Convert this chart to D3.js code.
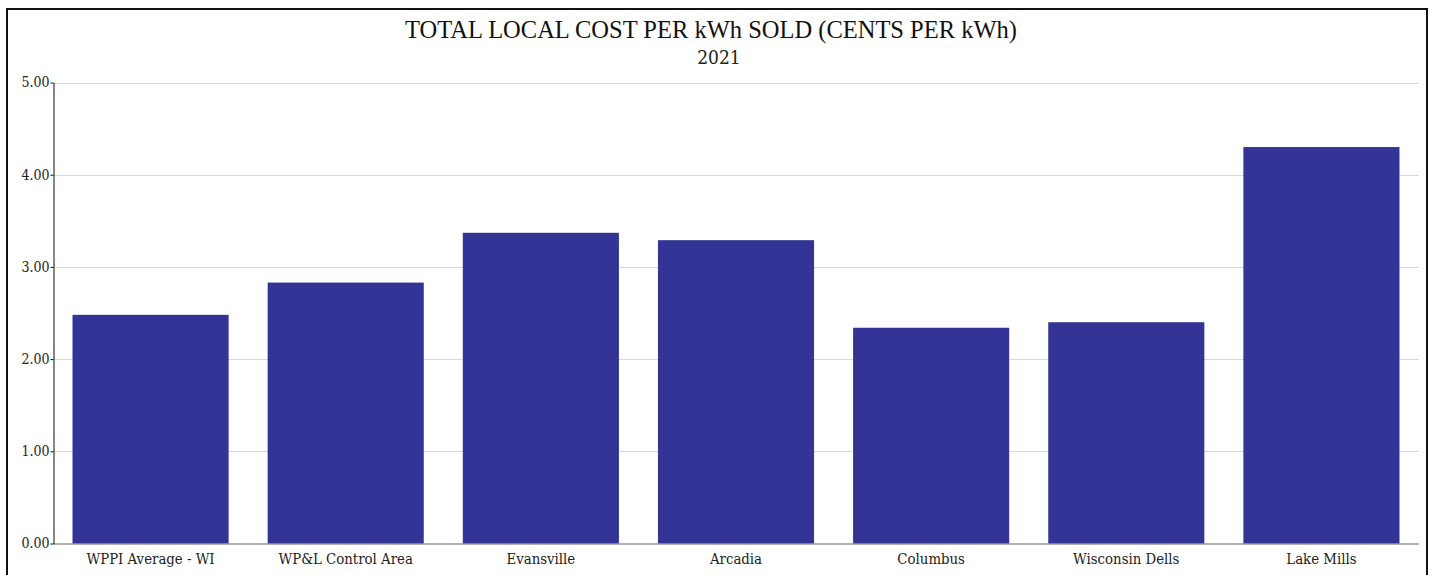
<!DOCTYPE html>
<meta charset="utf-8">
<style>
  body {
    margin: 0;
    background-color: white;
  }
  .frame {
    position: absolute;
    left: 6px;
    top: 8px;
    width: 1422px;
    height: 600px;
    border: 2px solid #111;
    box-sizing: border-box;
  }
</style>
<script src="https://d3js.org/d3.v7.min.js"></script>
<body>
<div class="frame"></div>
<div id="chart" style="position:absolute;left:0;top:0;"></div>
<script>
  // chart data
  const categories = ["WPPI Average - WI", "WP&L Control Area", "Evansville", "Arcadia", "Columbus", "Wisconsin Dells", "Lake Mills"];
  const values = [2.48, 2.83, 3.37, 3.29, 2.34, 2.40, 4.30];
  const yTicks = [0, 1, 2, 3, 4, 5];
  const title = "TOTAL LOCAL COST PER kWh SOLD (CENTS PER kWh)";
  const subtitle = "2021";

  var width = 1435, height = 575;
  var margin = {top: 82, right: 16, bottom: 32, left: 53};
  var labelFont = "'DejaVu Serif Condensed', 'DejaVu Serif', serif";

  var svg = d3.select("#chart")
    .append("svg")
      .attr("width", width)
      .attr("height", height);

  var x = d3.scaleBand()
    .domain(categories)
    .range([margin.left, width - margin.right])
    .paddingInner(0.2)
    .paddingOuter(0.1);

  var y = d3.scaleLinear()
    .domain([0, 5])
    .range([543.5, margin.top + 0.5]);

  // grid lines
  svg.append("g")
    .selectAll("line")
    .data(yTicks.slice(1))
    .enter()
    .append("line")
      .attr("x1", margin.left)
      .attr("x2", width - margin.right)
      .attr("y1", d => Math.round(y(d)) + 0.5)
      .attr("y2", d => Math.round(y(d)) + 0.5)
      .attr("stroke", "#d9d9d9")
      .attr("stroke-width", 1);

  // bars
  svg.append("g")
    .selectAll("rect")
    .data(values)
    .enter()
    .append("rect")
      .attr("x", (d, i) => x(categories[i]))
      .attr("y", d => y(d))
      .attr("width", x.bandwidth())
      .attr("height", d => y(0) - y(d))
      .attr("fill", "#343496");

  // x axis line
  svg.append("line")
    .attr("x1", margin.left)
    .attr("x2", width - margin.right)
    .attr("y1", y(0) + 0.5)
    .attr("y2", y(0) + 0.5)
    .attr("stroke", "#666")
    .attr("stroke-width", 1.2);

  // y axis
  var yAxis = svg.append("g")
    .attr("transform", "translate(" + (margin.left + 0.5) + ",0)")
    .call(d3.axisLeft(y).tickValues(yTicks).tickFormat(d3.format(".2f")).tickSize(3).tickSizeOuter(0));
  yAxis.select(".domain").attr("stroke", "#111");
  yAxis.selectAll(".tick line").attr("stroke", "#111");
  yAxis.selectAll("text")
    .style("font-family", labelFont)
    .style("font-size", "14px")
    .attr("fill", "#222")
    .attr("x", -4);

  // category labels
  svg.append("g")
    .selectAll("text")
    .data(categories)
    .enter()
    .append("text")
      .attr("x", d => x(d) + x.bandwidth() / 2)
      .attr("y", 564)
      .attr("text-anchor", "middle")
      .style("font-family", labelFont)
      .style("font-size", "14.8px")
      .attr("fill", "#222")
      .text(d => d);

  // titles
  svg.append("text")
    .attr("x", 711)
    .attr("y", 38)
    .attr("text-anchor", "middle")
    .style("font-family", "'Liberation Serif', serif")
    .style("font-size", "24.5px")
    .attr("fill", "#111")
    .text(title);

  svg.append("text")
    .attr("x", 719)
    .attr("y", 64)
    .attr("text-anchor", "middle")
    .style("font-family", labelFont)
    .style("font-size", "19px")
    .attr("fill", "#222")
    .text(subtitle);
</script>
</body>
